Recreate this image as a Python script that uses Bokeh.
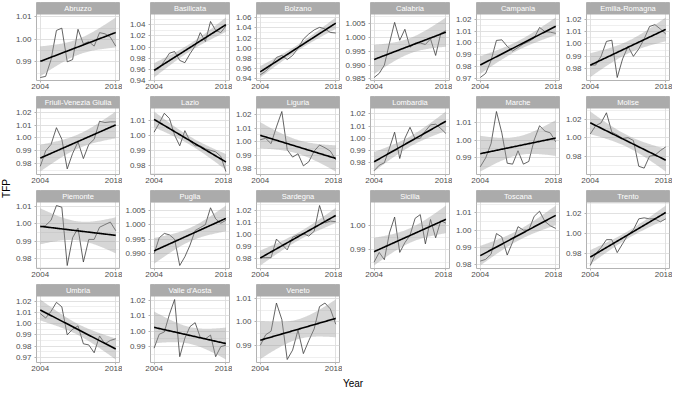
import numpy as np
from bokeh.plotting import figure
from bokeh.layouts import gridplot, row, column
from bokeh.models import Range1d, FixedTicker, PrintfTickFormatter, Label
from bokeh.core.properties import value
from bokeh.embed import file_html
from bokeh.resources import INLINE

# ---------------- data ----------------
years = list(range(2004, 2019))
x_ticks = [2004, 2018]
x_tick_labels = ["2004", "2018"]

regions = ["Abruzzo", "Basilicata", "Bolzano", "Calabria", "Campania", "Emilia-Romagna",
           "Friuli-Venezia Giulia", "Lazio", "Liguria", "Lombardia", "Marche", "Molise",
           "Piemonte", "Puglia", "Sardegna", "Sicilia", "Toscana", "Trento",
           "Umbria", "Valle d'Aosta", "Veneto"]

abruzzo = [0.983, 0.9835, 0.991, 1.004, 1.005, 0.990, 0.991, 1.0045, 0.998, 0.999, 0.997, 1.003, 1.0025, 1.001, 0.997]
basilicata = [0.957, 0.962, 0.975, 0.989, 0.992, 0.976, 0.972, 0.988, 1.002, 1.026, 1.010, 1.046, 1.030, 1.026, 1.038]
bolzano = [0.948, 0.955, 0.966, 0.982, 0.986, 0.978, 0.986, 1.000, 1.018, 1.028, 1.036, 1.041, 1.038, 1.031, 1.030]
calabria = [0.9855, 0.987, 0.990, 0.998, 1.0055, 0.999, 1.003, 0.9965, 0.998, 0.998, 0.9975, 0.9995, 0.9935, 1.0015, 1.0025]
campania = [0.9705, 0.974, 0.985, 1.002, 1.0025, 0.997, 0.993, 0.996, 0.999, 1.001, 1.004, 1.013, 1.0095, 1.009, 1.008]
emilia_romagna = [0.983, 0.983, 0.990, 1.002, 1.003, 0.973, 0.988, 0.998, 0.990, 0.996, 1.004, 1.014, 1.0155, 1.012, 1.008]
friuli = [0.978, 0.990, 0.995, 1.008, 0.999, 0.976, 0.988, 0.997, 0.984, 0.995, 0.999, 1.013, 1.012, 1.0125, 1.0125]
lazio = [1.002, 1.008, 1.0145, 1.011, 1.000, 0.993, 1.003, 0.996, 0.993, 0.993, 0.991, 0.990, 0.989, 0.986, 0.976]
liguria = [1.0015, 1.0025, 0.9985, 1.011, 1.0225, 0.994, 0.9885, 0.991, 0.982, 0.985, 0.993, 0.9975, 0.9955, 0.993, 0.9865]
lombardia = [0.9735, 0.978, 0.980, 0.992, 1.005, 0.9835, 1.000, 1.009, 0.9995, 1.000, 1.006, 1.011, 1.0115, 1.008, 1.004]
marche = [0.985, 0.990, 0.998, 1.016, 1.004, 0.987, 0.9865, 0.994, 0.9865, 0.988, 1.000, 1.008, 1.005, 1.004, 0.999]
molise = [1.004, 1.013, 1.016, 1.027, 1.006, 1.003, 0.999, 1.000, 0.997, 0.969, 0.967, 0.980, 0.981, 0.986, 0.990]
piemonte = [0.998, 0.999, 1.002, 1.0105, 1.0095, 0.976, 0.992, 0.9975, 0.978, 0.991, 0.991, 0.998, 0.9995, 1.001, 0.996]
puglia = [0.990, 0.9955, 0.997, 0.9965, 0.995, 0.986, 0.989, 0.993, 0.998, 0.999, 1.000, 1.0058, 1.002, 1.0005, 1.0015]
sardegna = [0.981, 0.981, 0.981, 0.9965, 0.992, 0.9875, 0.998, 1.000, 1.001, 0.999, 1.003, 1.0245, 1.010, 1.0115, 1.011]
sicilia = [0.985, 0.989, 0.986, 0.997, 1.0035, 0.989, 0.993, 0.996, 1.003, 1.0045, 0.9925, 1.0025, 0.995, 1.002, 1.001]
toscana = [0.982, 0.983, 0.986, 0.998, 0.996, 0.9855, 0.993, 1.002, 1.000, 1.000, 1.008, 1.011, 1.005, 1.0025, 1.001]
trento = [0.968, 0.980, 0.986, 0.994, 0.994, 0.981, 0.990, 0.999, 1.004, 1.015, 1.016, 1.015, 1.015, 1.012, 1.015]
umbria = [1.009, 1.005, 1.011, 1.019, 1.015, 0.990, 0.995, 0.998, 0.982, 0.981, 0.974, 0.989, 0.982, 0.985, 0.9865]
valle_daosta = [0.989, 0.998, 0.9995, 1.011, 1.0205, 0.9835, 0.9955, 1.003, 1.0055, 0.996, 0.995, 0.9975, 0.9835, 0.990, 0.991]
veneto = [0.990, 0.9945, 0.996, 1.008, 1.001, 0.984, 0.988, 0.9965, 0.9865, 0.992, 0.997, 1.0065, 1.008, 1.0055, 0.999]

series = [abruzzo, basilicata, bolzano, calabria, campania, emilia_romagna,
          friuli, lazio, liguria, lombardia, marche, molise,
          piemonte, puglia, sardegna, sicilia, toscana, trento,
          umbria, valle_daosta, veneto]

y_ticks = [
    [0.99, 1.00, 1.01],
    [0.94, 0.96, 0.98, 1.00, 1.02, 1.04],
    [0.94, 0.96, 0.98, 1.00, 1.02, 1.04, 1.06],
    [0.985, 0.990, 0.995, 1.000, 1.005],
    [0.97, 0.98, 0.99, 1.00, 1.01, 1.02],
    [0.98, 0.99, 1.00, 1.01, 1.02],
    [0.98, 0.99, 1.00, 1.01, 1.02],
    [0.98, 0.99, 1.00, 1.01],
    [0.98, 0.99, 1.00, 1.01, 1.02],
    [0.98, 0.99, 1.00, 1.01, 1.02],
    [0.99, 1.00, 1.01],
    [0.96, 0.98, 1.00, 1.02],
    [0.98, 0.99, 1.00, 1.01],
    [0.990, 0.995, 1.000, 1.005],
    [0.98, 0.99, 1.00, 1.01, 1.02],
    [0.99, 1.00],
    [0.98, 0.99, 1.00, 1.01],
    [0.98, 1.00, 1.02],
    [0.97, 0.98, 0.99, 1.00, 1.01, 1.02],
    [0.99, 1.00, 1.01, 1.02],
    [0.99, 1.00, 1.01],
]

x_label = "Year"
y_label = "TFP"

# ---------------- styling ----------------
FONT = "Liberation Sans"
NCOLS = 6
CELL_W, CELL_H = 110, 94
BL, BR, BT, BB = 24, 3, 2, 14
STRIP = 12
PANEL = CELL_H - BT - BB - STRIP
T975 = 2.160  # t quantile, df = 13
GRID = "#dedede"
BORDER = "#b3b3b3"
STRIP_FILL = "#ababab"


def make_panel(name, ys, ticks):
    x = np.array(years, dtype=float)
    y = np.array(ys, dtype=float)
    slope, icpt = np.polyfit(x, y, 1)
    xs = np.linspace(x[0], x[-1], 80)
    fit = icpt + slope * xs
    resid = y - (icpt + slope * x)
    s = np.sqrt((resid ** 2).sum() / (len(x) - 2))
    se = s * np.sqrt(1.0 / len(x) + (xs - x.mean()) ** 2 / ((x - x.mean()) ** 2).sum())
    band_lo, band_hi = fit - T975 * se, fit + T975 * se

    lo = min(y.min(), band_lo.min())
    hi = max(y.max(), band_hi.max())
    pad = 0.05 * (hi - lo)
    lo, hi = lo - pad, hi + pad
    top = hi + (hi - lo) * STRIP / PANEL
    xspan = x[-1] - x[0]
    xlo, xhi = x[0] - 0.05 * xspan, x[-1] + 0.05 * xspan

    p = figure(width=CELL_W, height=CELL_H, x_range=Range1d(xlo, xhi),
               y_range=Range1d(lo, top), output_backend="svg", toolbar_location=None,
               min_border_left=BL, min_border_right=BR, min_border_top=BT,
               min_border_bottom=BB)
    p.background_fill_color = "white"
    p.border_fill_color = "white"
    p.outline_line_color = BORDER
    p.outline_line_width = 1

    step = ticks[1] - ticks[0]
    majors = [t for t in ticks if lo <= t <= hi]
    minors = [t - step / 2 for t in ticks] + [ticks[-1] + step / 2]
    minors = [m for m in minors if lo <= m <= hi]
    decimals = 3 if abs(round(step * 100) - step * 100) > 1e-6 else 2

    p.yaxis.ticker = FixedTicker(ticks=majors, minor_ticks=minors)
    p.ygrid.ticker = p.yaxis.ticker
    p.yaxis.formatter = PrintfTickFormatter(format="%%.%df" % decimals)
    p.xaxis.ticker = FixedTicker(ticks=x_ticks)
    p.xgrid.ticker = p.xaxis.ticker
    p.xaxis.major_label_overrides = {t: l for t, l in zip(x_ticks, x_tick_labels)}

    p.grid.grid_line_color = GRID
    p.grid.grid_line_width = 0.9
    p.ygrid.minor_grid_line_color = GRID
    p.ygrid.minor_grid_line_width = 0.5

    p.axis.axis_line_color = None
    p.axis.major_tick_line_color = BORDER
    p.axis.major_tick_out = 2
    p.axis.major_tick_in = 0
    p.axis.minor_tick_line_color = None
    p.axis.major_label_standoff = 1
    p.axis.major_label_text_font = FONT
    p.axis.major_label_text_font_size = "8px"
    p.axis.major_label_text_color = "#4d4d4d"

    p.line(x, y, line_color="#3c3c3c", line_width=0.8)
    p.varea(x=xs, y1=band_lo, y2=band_hi, fill_color="#999999", fill_alpha=0.4)
    p.line(xs, fit, line_color="black", line_width=1.6)

    p.quad(left=[xlo], right=[xhi], bottom=[hi], top=[top],
           fill_color=STRIP_FILL, line_color=None)
    p.text(x=[(xlo + xhi) / 2], y=[(hi + top) / 2], text=[name],
           text_font=value(FONT), text_font_size="7.5px", text_color="white",
           text_align="center", text_baseline="middle")
    return p


panels = [make_panel(n, s, t) for n, s, t in zip(regions, series, y_ticks)]
rows_ = [panels[i:i + NCOLS] for i in range(0, len(panels), NCOLS)]
while len(rows_[-1]) < NCOLS:
    rows_[-1].append(None)
grid = gridplot(rows_, toolbar_location=None)

nrows = len(rows_)
tfp = figure(width=12, height=CELL_H * nrows, x_range=Range1d(0, 1), y_range=Range1d(0, 1),
             output_backend="svg", toolbar_location=None, min_border=0,
             x_axis_location=None, y_axis_location=None)
tfp.grid.visible = False
tfp.outline_line_color = None
tfp.add_layout(Label(x=0.5, y=0.5, text=y_label, angle=np.pi / 2, text_align="center",
                     text_baseline="middle", text_font=FONT, text_font_size="10px",
                     text_color="black"))

gw = CELL_W * NCOLS
yearfig = figure(width=gw, height=13, x_range=Range1d(0, 1), y_range=Range1d(0, 1),
                 output_backend="svg", toolbar_location=None, min_border=0,
                 x_axis_location=None, y_axis_location=None)
yearfig.grid.visible = False
yearfig.outline_line_color = None
yearfig.add_layout(Label(x=(BL + gw - BR) / 2 / gw, y=0.5, text=x_label, text_align="center",
                         text_baseline="middle", text_font=FONT, text_font_size="10px",
                         text_color="black"))

layout = row(tfp, column(grid, yearfig))
open("out.html", "w").write(file_html(layout, INLINE))
